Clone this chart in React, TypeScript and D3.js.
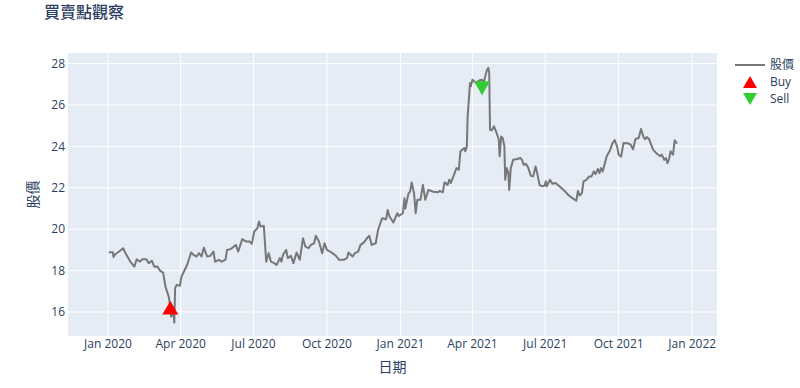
import { useMemo } from "react";
import * as d3 from "d3";

const WIDTH = 800;
const HEIGHT = 388;
const MARGIN = { top: 53, right: 83, bottom: 52, left: 68 };
const FONT = "'Open Sans', 'Noto Sans CJK TC', sans-serif";
const TEXT = "#2a3f5f";

// 股價 (closing price)
const dates = [
  "2020-01-02", "2020-01-07", "2020-01-08", "2020-01-10", "2020-01-15", "2020-01-20",
  "2020-01-23", "2020-01-29", "2020-02-03", "2020-02-06", "2020-02-10", "2020-02-13",
  "2020-02-18", "2020-02-21", "2020-02-25", "2020-02-28", "2020-03-03", "2020-03-06",
  "2020-03-10", "2020-03-13", "2020-03-17", "2020-03-19", "2020-03-20", "2020-03-23",
  "2020-03-24", "2020-03-25", "2020-03-27", "2020-03-31", "2020-04-02", "2020-04-06",
  "2020-04-09", "2020-04-14", "2020-04-17", "2020-04-21", "2020-04-24", "2020-04-27",
  "2020-04-30", "2020-05-04", "2020-05-08", "2020-05-12", "2020-05-14", "2020-05-19",
  "2020-05-22", "2020-05-27", "2020-05-29", "2020-06-02", "2020-06-05", "2020-06-09",
  "2020-06-12", "2020-06-17", "2020-06-22", "2020-06-26", "2020-06-29", "2020-07-02",
  "2020-07-06", "2020-07-08", "2020-07-10", "2020-07-14", "2020-07-17", "2020-07-20",
  "2020-07-23", "2020-07-27", "2020-07-30", "2020-08-03", "2020-08-05", "2020-08-07",
  "2020-08-11", "2020-08-13", "2020-08-17", "2020-08-20", "2020-08-24", "2020-08-28",
  "2020-09-01", "2020-09-04", "2020-09-08", "2020-09-11", "2020-09-15", "2020-09-17",
  "2020-09-21", "2020-09-25", "2020-09-28", "2020-10-01", "2020-10-05", "2020-10-09",
  "2020-10-13", "2020-10-16", "2020-10-22", "2020-10-26", "2020-10-28", "2020-11-02",
  "2020-11-05", "2020-11-09", "2020-11-12", "2020-11-16", "2020-11-20", "2020-11-23",
  "2020-11-26", "2020-12-01", "2020-12-04", "2020-12-09", "2020-12-14", "2020-12-16",
  "2020-12-18", "2020-12-23", "2020-12-28", "2020-12-30", "2021-01-04", "2021-01-06",
  "2021-01-07", "2021-01-11", "2021-01-13", "2021-01-15", "2021-01-18", "2021-01-20",
  "2021-01-22", "2021-01-26", "2021-01-29", "2021-02-01", "2021-02-05", "2021-02-11",
  "2021-02-17", "2021-02-19", "2021-02-23", "2021-02-25", "2021-03-01", "2021-03-03",
  "2021-03-05", "2021-03-09", "2021-03-12", "2021-03-15", "2021-03-17", "2021-03-22",
  "2021-03-23", "2021-03-25", "2021-03-26", "2021-03-29", "2021-03-30", "2021-04-01",
  "2021-04-05", "2021-04-08", "2021-04-10", "2021-04-13", "2021-04-15", "2021-04-17",
  "2021-04-19", "2021-04-21", "2021-04-22", "2021-04-23", "2021-04-25", "2021-04-28",
  "2021-05-01", "2021-05-04", "2021-05-05", "2021-05-07", "2021-05-09", "2021-05-11",
  "2021-05-12", "2021-05-14", "2021-05-16", "2021-05-17", "2021-05-19", "2021-05-22",
  "2021-05-27", "2021-05-31", "2021-06-02", "2021-06-04", "2021-06-07", "2021-06-10",
  "2021-06-13", "2021-06-16", "2021-06-19", "2021-06-21", "2021-06-24", "2021-06-27",
  "2021-06-30", "2021-07-02", "2021-07-03", "2021-07-07", "2021-07-10", "2021-07-14",
  "2021-07-18", "2021-07-21", "2021-07-25", "2021-07-30", "2021-08-04", "2021-08-09",
  "2021-08-11", "2021-08-13", "2021-08-16", "2021-08-18", "2021-08-22", "2021-08-25",
  "2021-08-28", "2021-08-31", "2021-09-02", "2021-09-05", "2021-09-07", "2021-09-09",
  "2021-09-11", "2021-09-16", "2021-09-20", "2021-09-23", "2021-09-26", "2021-09-29",
  "2021-10-01", "2021-10-04", "2021-10-07", "2021-10-12", "2021-10-16", "2021-10-19",
  "2021-10-22", "2021-10-26", "2021-10-29", "2021-11-01", "2021-11-03", "2021-11-05",
  "2021-11-08", "2021-11-13", "2021-11-18", "2021-11-22", "2021-11-24", "2021-11-27",
  "2021-11-29", "2021-12-01", "2021-12-03", "2021-12-05", "2021-12-08", "2021-12-10",
  "2021-12-13",
];

const prices = [
  18.89, 18.89, 18.65, 18.79, 18.92, 19.08,
  18.84, 18.43, 18.19, 18.55, 18.43, 18.55,
  18.55, 18.36, 18.47, 18.19, 18.2, 18.0,
  17.9, 17.22, 16.74, 16.26, 15.77, 15.94,
  15.48, 17.15, 17.31, 17.26, 17.71, 18.03,
  18.27, 18.87, 18.76, 18.68, 18.84, 18.68,
  19.11, 18.68, 18.71, 18.92, 18.43, 18.52,
  18.43, 18.52, 19.0, 19.03, 19.11, 19.24,
  18.92, 19.52, 19.4, 19.4, 19.29, 19.89,
  20.05, 20.37, 20.13, 20.16, 18.43, 18.84,
  18.43, 18.36, 18.27, 18.6, 18.43, 18.76,
  19.0, 18.6, 18.71, 18.36, 18.87, 18.52,
  19.56, 19.16, 19.08, 19.24, 19.32, 19.68,
  19.4, 18.84, 19.32, 19.0, 18.92, 18.81,
  18.68, 18.52, 18.52, 18.6, 18.87, 18.68,
  18.84, 18.92, 19.24, 19.35, 19.56, 19.68,
  19.24, 19.32, 19.97, 20.53, 20.48, 20.93,
  20.64, 20.32, 20.77, 20.64, 20.77, 21.49,
  21.0, 21.73, 21.81, 22.26, 21.73, 20.77,
  21.42, 21.42, 22.14, 21.42, 21.9, 21.81,
  21.78, 21.85, 21.78, 22.26, 22.14, 22.39,
  22.23, 22.63, 22.95, 22.87, 23.76, 23.92,
  23.76, 24.0, 25.45, 27.06, 26.9, 27.22,
  27.09, 27.14, 27.19, 27.22, 27.06, 27.38,
  27.67, 27.79, 27.55, 24.8, 24.77, 24.97,
  24.68, 24.32, 23.52, 24.48, 24.4, 24.0,
  22.39, 22.95, 22.71, 21.9, 22.95, 23.35,
  23.39, 23.44, 23.35, 23.11, 23.16, 22.95,
  22.58, 22.55, 23.03, 22.71, 22.14, 22.07,
  22.1, 22.31, 22.07, 22.39, 22.19, 22.23,
  22.1, 22.0, 21.86, 21.65, 21.5, 21.38,
  21.85, 21.63, 21.74, 22.31, 22.39, 22.55,
  22.55, 22.79, 22.66, 22.91, 22.71, 22.95,
  22.79, 23.52, 23.8, 24.13, 24.3, 24.0,
  23.6, 23.5, 24.16, 24.15, 24.08, 23.86,
  24.36, 24.4, 24.84, 24.45, 24.35, 24.45,
  24.35, 23.84, 23.64, 23.52, 23.6, 23.35,
  23.44, 23.19, 23.39, 23.76, 23.6, 24.29,
  24.13,
];

const buyDates = ["2020-03-19"];
const buyPrices = [16.21];
const sellDates = ["2021-04-13"];
const sellPrices = [26.81];

const yTicks = [16, 18, 20, 22, 24, 26, 28];
const xTicks = [
  "2020-01-01", "2020-04-01", "2020-07-01", "2020-10-01",
  "2021-01-01", "2021-04-01", "2021-07-01", "2021-10-01", "2022-01-01",
];
const xDomain = ["2019-11-12", "2022-02-01"];
const yDomain = [14.84, 28.51];

const parse = d3.timeParse("%Y-%m-%d");
const fmt = d3.timeFormat("%b %Y");

const triangle = (size: number, up: boolean) => {
  const h = size * 0.87;
  const s = size / 2;
  return up
    ? `M${-s},${h / 2}L${s},${h / 2}L0,${-h / 2}Z`
    : `M${-s},${-h / 2}L${s},${-h / 2}L0,${h / 2}Z`;
};

export default function App() {
  const boundsWidth = WIDTH - MARGIN.left - MARGIN.right;
  const boundsHeight = HEIGHT - MARGIN.top - MARGIN.bottom;

  const xScale = useMemo(
    () => d3.scaleTime().domain(xDomain.map((d) => parse(d)!)).range([0, boundsWidth]),
    [boundsWidth]
  );
  const yScale = useMemo(
    () => d3.scaleLinear().domain(yDomain).range([boundsHeight, 0]),
    [boundsHeight]
  );

  const series = dates.map((d, i) => ({ date: parse(d)!, value: prices[i] }));
  const linePath = d3
    .line<{ date: Date; value: number }>()
    .x((d) => xScale(d.date))
    .y((d) => yScale(d.value))(series);

  return (
    <div style={{ position: "absolute", left: 0, top: 0 }}>
      <svg width={WIDTH} height={HEIGHT} style={{ display: "block", fontFamily: FONT }}>
        <rect width={WIDTH} height={HEIGHT} fill="#fff" />
        <text x={44} y={18} fontSize={16} fill={TEXT} fontWeight={500}>
          買賣點觀察
        </text>
        <g transform={`translate(${MARGIN.left},${MARGIN.top})`}>
          <rect width={boundsWidth} height={boundsHeight} fill="#E5ECF6" />
          {yTicks.map((t) => (
            <g key={t}>
              <line x1={0} x2={boundsWidth} y1={yScale(t)} y2={yScale(t)} stroke="#fff" strokeWidth={1} />
              <text x={-3} y={yScale(t)} dy="0.35em" textAnchor="end" fontSize={12} fill={TEXT}>
                {t}
              </text>
            </g>
          ))}
          {xTicks.map((t) => {
            const x = xScale(parse(t)!);
            return (
              <g key={t}>
                <line x1={x} x2={x} y1={0} y2={boundsHeight} stroke="#fff" strokeWidth={1} />
                <text x={x} y={boundsHeight + 12} textAnchor="middle" fontSize={12} fill={TEXT}>
                  {fmt(parse(t)!)}
                </text>
              </g>
            );
          })}
          <path d={linePath ?? ""} fill="none" stroke="#777" strokeWidth={2} strokeLinejoin="round" />
          {buyDates.map((d, i) => (
            <path
              key={d}
              d={triangle(16, true)}
              transform={`translate(${xScale(parse(d)!)},${yScale(buyPrices[i])})`}
              fill="red"
            />
          ))}
          {sellDates.map((d, i) => (
            <path
              key={d}
              d={triangle(16, false)}
              transform={`translate(${xScale(parse(d)!)},${yScale(sellPrices[i])})`}
              fill="#33cc33"
            />
          ))}
        </g>
        <text
          transform={`translate(38,${MARGIN.top + boundsHeight / 2}) rotate(-90)`}
          textAnchor="middle"
          fontSize={14}
          fill={TEXT}
        >
          股價
        </text>
        <text x={MARGIN.left + boundsWidth / 2} y={372} textAnchor="middle" fontSize={14} fill={TEXT}>
          日期
        </text>
        <g transform="translate(735,65)" fontSize={12} fill={TEXT}>
          <line x1={0} x2={30} y1={0} y2={0} stroke="#777" strokeWidth={2} />
          <text x={35} y={0} dy="0.35em">股價</text>
          <path d={triangle(14, true)} transform="translate(15,17)" fill="red" />
          <text x={35} y={17} dy="0.35em">Buy</text>
          <path d={triangle(14, false)} transform="translate(15,34)" fill="#33cc33" />
          <text x={35} y={34} dy="0.35em">Sell</text>
        </g>
      </svg>
    </div>
  );
}
